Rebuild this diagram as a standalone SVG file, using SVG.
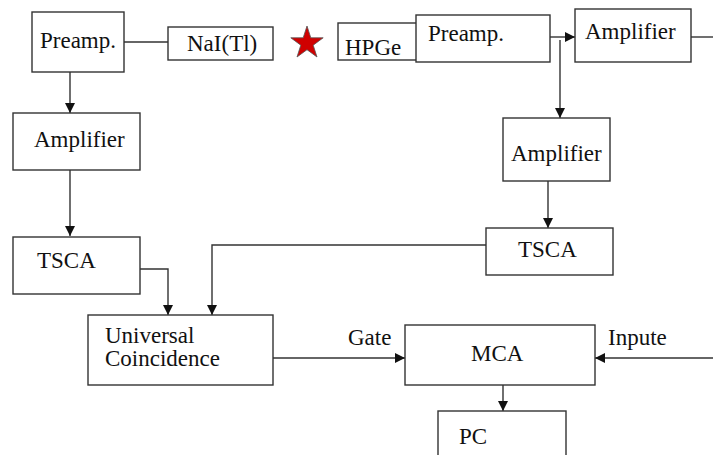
<svg xmlns="http://www.w3.org/2000/svg" width="713" height="455" viewBox="0 0 713 455">
<defs>
<style>
.box{fill:#fff;stroke:#333;stroke-width:1.4}
.t{font-family:"Liberation Serif","Times New Roman",serif;font-size:23px;fill:#111}
.c{fill:none;stroke:#333;stroke-width:1.4}
</style>
<marker id="ar" viewBox="0 0 10 10" refX="10" refY="5" markerWidth="10" markerHeight="10" markerUnits="userSpaceOnUse" orient="auto">
<path d="M0,0 L10,5 L0,10 z" fill="#111"/>
</marker>
</defs>
<rect width="713" height="455" fill="#fff"/>
<g id="connectors">
<path class="c" d="M124,42 H168"/>
<path class="c" d="M70,72 V113" marker-end="url(#ar)"/>
<path class="c" d="M70,170 V236" marker-end="url(#ar)"/>
<path class="c" d="M550,37 H575" marker-end="url(#ar)"/>
<path class="c" d="M691,37 H713"/>
<path class="c" d="M560,40 V118" marker-end="url(#ar)"/>
<path class="c" d="M548,181 V228" marker-end="url(#ar)"/>
<path class="c" d="M140,269 H168 V315" marker-end="url(#ar)"/>
<path class="c" d="M486,245 H212 V315" marker-end="url(#ar)"/>
<path class="c" d="M273,358 H405" marker-end="url(#ar)"/>
<path class="c" d="M713,358 H595" marker-end="url(#ar)"/>
<path class="c" d="M503,385 V411" marker-end="url(#ar)"/>
</g>
<g id="preamp-left"><rect class="box" x="32" y="12" width="92" height="60"/><text class="t" x="40" y="48">Preamp.</text></g>
<g id="nai"><rect class="box" x="168" y="27" width="105" height="33"/><text class="t" x="187" y="51">NaI(Tl)</text></g>
<g id="source"><polygon points="307,26 310.8,37.8 323.2,37.8 313.2,45.2 317,57 307,49.7 297,57 300.8,45.2 290.8,37.8 303.2,37.8" fill="#d00000" stroke="#555" stroke-width="0.8"/></g>
<g id="hpge"><rect class="box" x="338" y="23" width="79" height="37"/><text class="t" x="345" y="55">HPGe</text></g>
<g id="preamp-right"><rect class="box" x="416" y="15" width="134" height="47"/><text class="t" x="428" y="41">Preamp.</text></g>
<g id="amplifier-top"><rect class="box" x="575" y="9" width="116" height="53"/><text class="t" x="585" y="39">Amplifier</text></g>
<g id="amplifier-left"><rect class="box" x="13" y="113" width="127" height="57"/><text class="t" x="34" y="147">Amplifier</text></g>
<g id="amplifier-right"><rect class="box" x="503" y="118" width="107" height="63"/><text class="t" x="511" y="161">Amplifier</text></g>
<g id="tsca-left"><rect class="box" x="13" y="237" width="127" height="57"/><text class="t" x="37" y="268">TSCA</text></g>
<g id="tsca-right"><rect class="box" x="486" y="228" width="127" height="47"/><text class="t" x="518" y="257">TSCA</text></g>
<g id="coincidence"><rect class="box" x="88" y="315" width="185" height="70"/><text class="t" x="105" y="343">Universal</text><text class="t" x="105" y="366">Coincidence</text></g>
<g id="mca"><rect class="box" x="405" y="325" width="190" height="60"/><text class="t" x="471" y="361">MCA</text></g>
<g id="pc"><rect class="box" x="438" y="411" width="128" height="50"/><text class="t" x="459" y="444">PC</text></g>
<text class="t" x="348" y="345">Gate</text>
<text class="t" x="608" y="345">Inpute</text>
</svg>
